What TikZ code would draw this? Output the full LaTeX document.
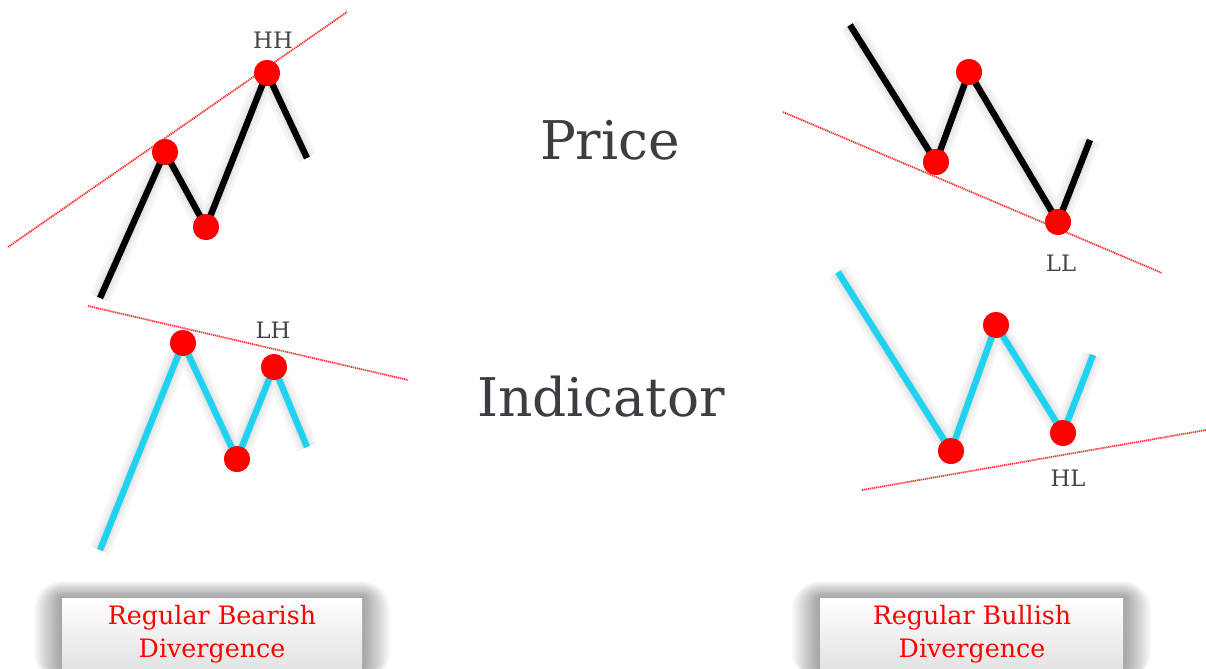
\documentclass[tikz,border=0pt]{standalone}
\usepackage{fontspec}
\setmainfont{DejaVu Serif}
\definecolor{txtgray}{HTML}{3A3D42}
\definecolor{lblgray}{HTML}{454545}
\definecolor{cyanline}{HTML}{1FD3F0}
\definecolor{dotred}{HTML}{FF0000}
\tikzset{
  pdot/.style={circle,fill=dotred,minimum size=19.5pt,inner sep=0pt},
  blackleg/.style={line width=4.8pt,black},
  cyanleg/.style={line width=4.8pt,cyanline},
  legshadow/.style={black,opacity=0.035,line join=round,shift={(6,9)}},
  trend/.style={red!85!white,line width=1.3pt,dash pattern=on 0.9pt off 0.6pt},
  lbl/.style={text=lblgray,font=\fontsize{17}{19}\selectfont},
  big/.style={text=txtgray,font=\fontsize{40}{44}\selectfont},
  divbox/.style={draw=none,top color=white,bottom color=black!13},
  divtext/.style={text=dotred,align=center,font=\fontsize{19}{24.5}\selectfont}
}
\newcommand{\softshadow}[4]{%
  \foreach \k in {1,...,14}{
    \fill[black,opacity=0.028,rounded corners=\k*1.5pt]
      ({#1-\k*2.0},{#2-\k*1.2}) rectangle ({#3+\k*2.0},{#4});
  }}
\newcommand{\legshade}[5]{%
  \foreach \w in {16,11,7}{
    \draw[legshadow,line width=\w pt] (#1) -- (#2) -- (#3) -- (#4) -- (#5);
  }}
\begin{document}
\begin{tikzpicture}[x=0.75pt,y=-0.75pt]
\useasboundingbox (0,0) rectangle (1206,668);
\clip (0,0) rectangle (1206,668);
\fill[white] (0,0) rectangle (1206,668);

% ---------- left price ----------
\coordinate (lp0) at (100,298);
\coordinate (lp4) at (307,158);
\node[pdot] (lp1) at (165,152) {};
\node[pdot] (lp2) at (206,227) {};
\node[pdot] (lp3) at (267,73) {};
\coordinate (lpt0) at (8,247);
\coordinate (lpt1) at (347,12);
\legshade{lp0}{lp1.center}{lp2.center}{lp3.center}{lp4}
\draw[trend] (lpt0) -- (lpt1);
\draw[blackleg] (lp0) -- (lp1.center) -- (lp2.center) -- (lp3.center) -- (lp4);
\node[pdot] at (lp1) {};
\node[pdot] at (lp2) {};
\node[pdot] at (lp3) {};
\node[lbl] (hh) at (273,40) {HH};

% ---------- left indicator ----------
\coordinate (li0) at (100,550);
\coordinate (li4) at (307,447);
\node[pdot] (li1) at (183,343) {};
\node[pdot] (li2) at (237,459) {};
\node[pdot] (li3) at (274,367) {};
\coordinate (lit0) at (88,306);
\coordinate (lit1) at (408,380);
\legshade{li0}{li1.center}{li2.center}{li3.center}{li4}
\draw[trend] (lit0) -- (lit1);
\draw[cyanleg] (li0) -- (li1.center) -- (li2.center) -- (li3.center) -- (li4);
\node[pdot] at (li1) {};
\node[pdot] at (li2) {};
\node[pdot] at (li3) {};
\node[lbl] (lh) at (273,330) {LH};

% ---------- right price ----------
\coordinate (rp0) at (850,25);
\coordinate (rp4) at (1090,140);
\node[pdot] (rp1) at (936,162) {};
\node[pdot] (rp2) at (969,72) {};
\node[pdot] (rp3) at (1058,222) {};
\coordinate (rpt0) at (783,112);
\coordinate (rpt1) at (1162,273);
\legshade{rp0}{rp1.center}{rp2.center}{rp3.center}{rp4}
\draw[trend] (rpt0) -- (rpt1);
\draw[blackleg] (rp0) -- (rp1.center) -- (rp2.center) -- (rp3.center) -- (rp4);
\node[pdot] at (rp1) {};
\node[pdot] at (rp2) {};
\node[pdot] at (rp3) {};
\node[lbl] (ll) at (1061,263) {LL};

% ---------- right indicator ----------
\coordinate (ri0) at (838,272);
\coordinate (ri4) at (1093,355);
\node[pdot] (ri1) at (951,451) {};
\node[pdot] (ri2) at (996,325) {};
\node[pdot] (ri3) at (1063,433) {};
\coordinate (rit0) at (862,490);
\coordinate (rit1) at (1206,430);
\legshade{ri0}{ri1.center}{ri2.center}{ri3.center}{ri4}
\draw[trend] (rit0) -- (rit1);
\draw[cyanleg] (ri0) -- (ri1.center) -- (ri2.center) -- (ri3.center) -- (ri4);
\node[pdot] at (ri1) {};
\node[pdot] at (ri2) {};
\node[pdot] at (ri3) {};
\node[lbl] (hl) at (1068,478) {HL};

% ---------- centre titles ----------
\node[big] (price) at (610,140) {Price};
\node[big] (indicator) at (601,397) {Indicator};

% ---------- bottom boxes ----------
\softshadow{62}{598}{362}{680}
\softshadow{820}{598}{1123}{680}
\path[divbox] (62,598) rectangle (362,680);
\path[divbox] (820,598) rectangle (1123,680);
\node[divtext] (bear) at (212,634) {Regular Bearish\\Divergence};
\node[divtext] (bull) at (972,634) {Regular Bullish\\Divergence};
\end{tikzpicture}
\end{document}
